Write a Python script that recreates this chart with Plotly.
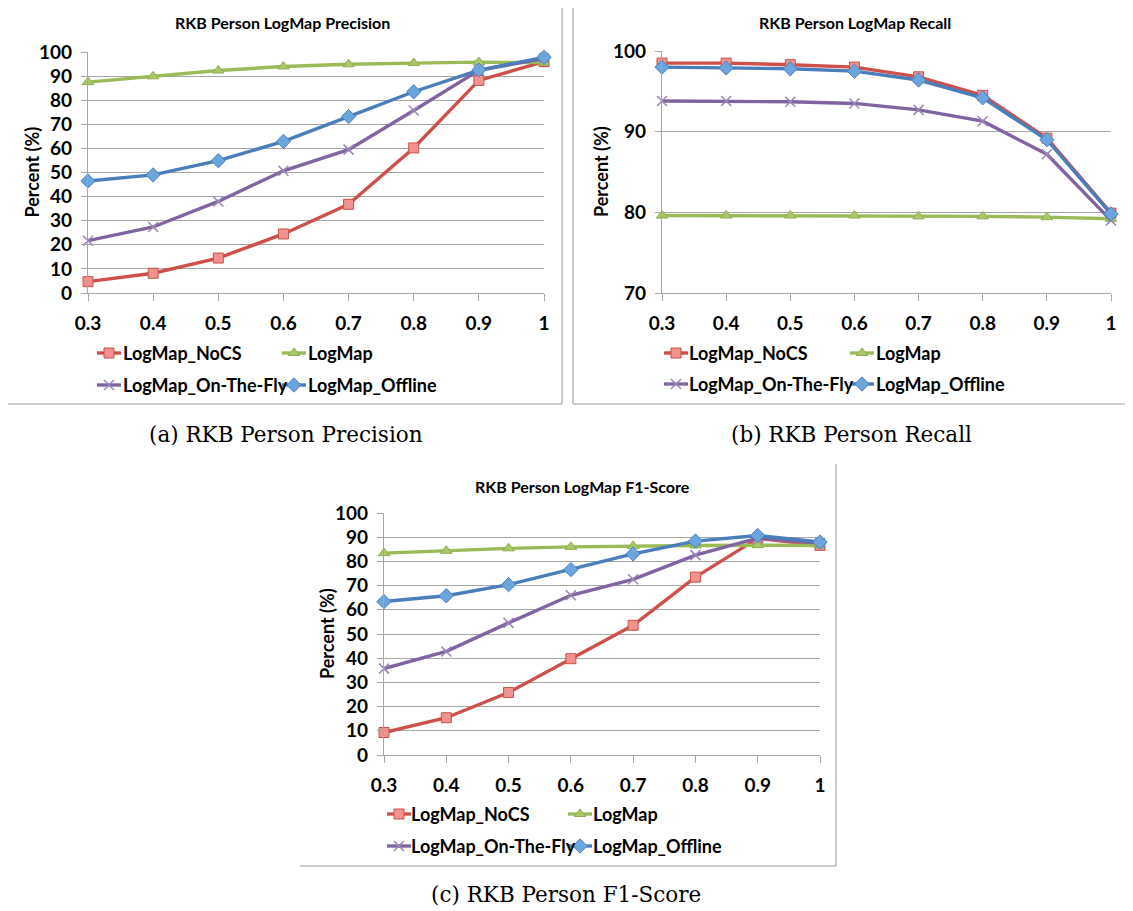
import plotly.graph_objects as go

W, H = 1133, 911
OFF = 8  # page body margin

thresholds = [0.3, 0.4, 0.5, 0.6, 0.7, 0.8, 0.9, 1.0]
tick_labels = ["0.3", "0.4", "0.5", "0.6", "0.7", "0.8", "0.9", "1"]
series_names = ["LogMap_NoCS", "LogMap", "LogMap_On-The-Fly", "LogMap_Offline"]

precision_nocs = [4.7, 8.2, 14.5, 24.5, 36.8, 60.2, 88.2, 96.0]
precision_logmap = [87.5, 89.9, 92.3, 94.0, 94.9, 95.4, 95.8, 95.6]
precision_otf = [21.7, 27.4, 38.0, 50.7, 59.5, 75.7, 92.4, 97.3]
precision_offline = [46.5, 49.0, 54.9, 62.9, 73.2, 83.5, 92.5, 97.8]

recall_nocs = [98.5, 98.5, 98.3, 98.0, 96.8, 94.5, 89.2, 79.9]
recall_logmap = [79.6, 79.6, 79.6, 79.6, 79.5, 79.5, 79.4, 79.2]
recall_otf = [93.8, 93.8, 93.7, 93.5, 92.7, 91.3, 87.2, 79.0]
recall_offline = [98.0, 97.9, 97.8, 97.5, 96.4, 94.2, 89.0, 79.8]

f1_nocs = [9.3, 15.4, 25.8, 39.8, 53.6, 73.5, 89.5, 86.6]
f1_logmap = [83.4, 84.4, 85.4, 86.0, 86.4, 86.6, 86.7, 86.6]
f1_otf = [35.7, 42.8, 54.6, 66.0, 72.6, 82.6, 89.6, 87.6]
f1_offline = [63.4, 65.8, 70.4, 76.6, 83.1, 88.4, 90.7, 88.0]

panel_titles = ["RKB Person LogMap Precision", "RKB Person LogMap Recall", "RKB Person LogMap F1-Score"]
captions = ["(a) RKB Person Precision", "(b) RKB Person Recall", "(c) RKB Person F1-Score"]

FONT = "Lato"
GRID = "#A6A6A6"

styles = [
    dict(line="#CF504B", sym="square", size=10, fill="#F2928E", edge="#C9504B", ew=1),
    dict(line="#9BBB59", sym="triangle-up", size=10, fill="#A9C86A", edge="#8FAE4E", ew=1),
    dict(line="#8064A2", sym="x-thin-open", size=10, fill="#9A86B8", edge="#9A86B8", ew=1.5),
    dict(line="#4A7EBB", sym="diamond", size=11, fill="#6AA5DE", edge="#4F81BD", ew=1),
]


def fx(x):
    return (x - OFF) / W


def fy(y):
    return 1 - (y - OFF) / H


panels = [
    dict(x0=88, x1=544, ytop=52, ybot=293, rng=[0, 100], data=[precision_nocs, precision_logmap, precision_otf, precision_offline],
         title_xy=(282, 23), ytitle_x=31, leg=(109, 121, 294, 306, 353, 385), cap=(286, 434)),
    dict(x0=662, x1=1111, ytop=51, ybot=293, rng=[70, 100], data=[recall_nocs, recall_logmap, recall_otf, recall_offline],
         title_xy=(855, 23), ytitle_x=601, leg=(676, 687, 862, 874, 353, 384), cap=(851, 434)),
    dict(x0=384, x1=820, ytop=513, ybot=755, rng=[0, 100], data=[f1_nocs, f1_logmap, f1_otf, f1_offline],
         title_xy=(582, 486), ytitle_x=327, leg=(399, 409, 580, 591, 814, 846), cap=(566, 894)),
]

fig = go.Figure()
layout = dict(template="none", width=W, height=H, margin=dict(l=0, r=0, t=0, b=0, autoexpand=False),
              plot_bgcolor="rgba(0,0,0,0)", paper_bgcolor="white", showlegend=False)
annotations = []
shapes = []

for i, p in enumerate(panels):
    suf = "" if i == 0 else str(i + 1)
    xa = "xaxis" + suf
    ya = "yaxis" + suf
    layout[xa] = dict(domain=[fx(p["x0"]), fx(p["x1"])], range=[0.3, 1.0], tickvals=thresholds, ticktext=tick_labels,
                      showgrid=False, showline=True, linecolor=GRID, linewidth=1.3, ticks="outside", ticklen=7,
                      tickcolor=GRID, tickwidth=1.3, ticklabelstandoff=6, zeroline=False, anchor="y" + suf,
                      automargin=False,
                      tickfont=dict(family=FONT, size=19, color="black", weight="bold"), fixedrange=True)
    layout[ya] = dict(domain=[fy(p["ybot"]), fy(p["ytop"])], range=p["rng"], dtick=10, showgrid=True, gridcolor=GRID,
                      gridwidth=1.2, showline=True, linecolor=GRID, linewidth=1.3, ticks="outside", ticklen=6,
                      tickcolor=GRID, tickwidth=1.2, ticklabelstandoff=5, zeroline=False, anchor="x" + suf,
                      automargin=False,
                      tickfont=dict(family=FONT, size=19, color="black", weight="bold"), fixedrange=True)
    for s, (vals, st) in enumerate(zip(p["data"], styles)):
        fig.add_trace(go.Scatter(
            x=thresholds, y=vals, mode="lines+markers", name=series_names[s], cliponaxis=False,
            line=dict(color=st["line"], width=3.4),
            marker=dict(symbol=st["sym"], size=st["size"], color=st["fill"], line=dict(color=st["edge"], width=st["ew"])),
            xaxis="x" + suf, yaxis="y" + suf))
    annotations.append(dict(text=panel_titles[i], x=fx(p["title_xy"][0]), y=fy(p["title_xy"][1]), xref="paper", yref="paper",
                            showarrow=False, xanchor="center", yanchor="middle",
                            font=dict(family=FONT, size=16, color="black", weight="bold")))
    annotations.append(dict(text="Percent (%)", x=fx(p["ytitle_x"]), y=fy((p["ytop"] + p["ybot"]) / 2), xref="paper",
                            yref="paper", showarrow=False, textangle=-90, xanchor="center", yanchor="middle",
                            font=dict(family=FONT, size=18, color="black", weight="bold")))
    annotations.append(dict(text=captions[i], x=fx(p["cap"][0]), y=fy(p["cap"][1]), xref="paper", yref="paper",
                            showarrow=False, xanchor="center", yanchor="middle",
                            font=dict(family="DejaVu Serif", size=21.5, color="black")))
    m1, t1, m2, t2, r1, r2 = p["leg"]
    leg_pos = [(m1, t1, r1), (m2, t2, r1), (m1, t1, r2), (m2, t2, r2)]
    for s, (mx, tx, ry) in enumerate(leg_pos):
        st = styles[s]
        fig.add_trace(go.Scatter(
            x=[mx - OFF - 12, mx - OFF + 12], y=[ry - OFF, ry - OFF], mode="lines", line=dict(color=st["line"], width=3.4),
            xaxis="x4", yaxis="y4", hoverinfo="skip"))
        fig.add_trace(go.Scatter(
            x=[mx - OFF], y=[ry - OFF], mode="markers", cliponaxis=False,
            marker=dict(symbol=st["sym"], size=st["size"], color=st["fill"], line=dict(color=st["edge"], width=st["ew"])),
            xaxis="x4", yaxis="y4", hoverinfo="skip"))
        annotations.append(dict(text=series_names[s], x=fx(tx), y=fy(ry), xref="paper", yref="paper",
                                showarrow=False, xanchor="left", yanchor="middle",
                                font=dict(family=FONT, size=18, color="black", weight="bold")))

layout["xaxis4"] = dict(domain=[0, 1], range=[0, W], visible=False, fixedrange=True, anchor="y4", automargin=False)
layout["yaxis4"] = dict(domain=[0, 1], range=[H, 0], visible=False, fixedrange=True, anchor="x4", automargin=False)

BOX = "#BDBDBD"
frame_lines = [
    (7, 404, 562, 404), (562, 3, 562, 404),
    (573, 3, 573, 404), (573, 404, 1128, 404), (1128, 3, 1128, 404),
    (300, 866, 836, 866), (836, 464, 836, 866),
]
for (a, b, c, d) in frame_lines:
    shapes.append(dict(type="line", xref="paper", yref="paper", x0=fx(a), y0=fy(b), x1=fx(c), y1=fy(d),
                       line=dict(color=BOX, width=1.6)))

layout["annotations"] = annotations
layout["shapes"] = shapes
fig.update_layout(**layout)
fig.write_html("out.html")
